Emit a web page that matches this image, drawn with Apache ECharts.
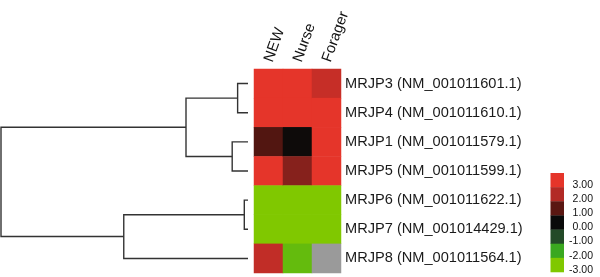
<!DOCTYPE html>
<html>
<head>
<meta charset="utf-8">
<script src="https://cdn.jsdelivr.net/npm/echarts@6/dist/echarts.min.js"></script>
<style>html,body{margin:0;padding:0;background:#fff;}#c{width:600px;height:277px;}</style>
</head>
<body>
<div id="c"></div>
<script>
// ---- data ----
const samples = ['NEW', 'Nurse', 'Forager'];
const genes = ['MRJP3 (NM_001011601.1)', 'MRJP4 (NM_001011610.1)', 'MRJP1 (NM_001011579.1)',
  'MRJP5 (NM_001011599.1)', 'MRJP6 (NM_001011622.1)', 'MRJP7 (NM_001014429.1)', 'MRJP8 (NM_001011564.1)'];
const valNEW     = [3.0, 3.0, 0.9, 3.0, -3.0, -3.0, 2.3];
const valNurse   = [3.0, 3.0, 0.05, 1.5, -3.0, -3.0, -2.6];
const valForager = [2.4, 3.0, 3.0, 3.0, -3.0, -3.0, null];
// dendrogram merges (R hclust style: negative = leaf row, positive = earlier merge, 1-based)
const mergeLeft   = [-5, -1, -3, 2, 1, 4];
const mergeRight  = [-6, -2, -4, 3, -7, 5];
const mergeHeight = [0.015, 0.042, 0.064, 0.251, 0.503, 1.0];
// legend
const legendLabels = ['3.00', '2.00', '1.00', '0.00', '-1.00', '-2.00', '-3.00'];
const legendColors = ['#e5352a', '#b22a25', '#5a1712', '#0a0a0a', '#234a28', '#3aa820', '#80c800'];
const missingColor = '#9a9a9a';

// ---- build ----
const cols = [valNEW, valNurse, valForager];
const heat = [], missing = [];
cols.forEach((arr, ci) => arr.forEach((v, ri) => {
  if (v === null) missing.push([ci, ri, 0]); else heat.push([ci, ri, v]);
}));

const nodes = [];
function pos(id) {
  if (id < 0) return { y: -id - 1 + 0.5, h: 0 };
  return nodes[id - 1];
}
const dendro = [];
for (let i = 0; i < mergeLeft.length; i++) {
  const a = pos(mergeLeft[i]), b = pos(mergeRight[i]), h = mergeHeight[i];
  dendro.push({ coords: [[a.h, a.y], [h, a.y], [h, b.y], [b.h, b.y]] });
  nodes.push({ y: (a.y + b.y) / 2, h: h });
}

// colour key built from legend arrays
const keyLeft = 550.5, keyTop = 173, keyW = 13.5, keyH = 14.14, keyTextRight = 593;
const FONT = 'Liberation Sans, Arial, sans-serif';
const keyGraphics = [];
legendColors.forEach((c, i) => {
  keyGraphics.push({ type: 'rect', left: keyLeft, top: keyTop + i * keyH,
    shape: { width: keyW, height: keyH + 0.3 }, style: { fill: c }, silent: true });
  keyGraphics.push({ type: 'text', x: keyTextRight, y: keyTop + i * keyH + 12,
    style: { text: legendLabels[i], font: '10.5px ' + FONT, fill: '#111', textAlign: 'right', textVerticalAlign: 'middle' },
    silent: true });
});

const chart = echarts.init(document.getElementById('c'), null, { renderer: 'canvas' });
chart.setOption({
  backgroundColor: '#ffffff',
  animation: false,
  grid: [
    { left: 254, top: 69, width: 87, height: 204 },
    { left: 1, top: 69, width: 247, height: 204 }
  ],
  xAxis: [
    { type: 'category', gridIndex: 0, data: samples, position: 'top',
      axisLine: { show: false }, axisTick: { show: false }, splitLine: { show: false },
      axisLabel: { rotate: -70, fontSize: 15, fontFamily: FONT, color: '#111', margin: 7.5, interval: 0 } },
    { type: 'value', gridIndex: 1, min: 0, max: 1, inverse: true, show: false }
  ],
  yAxis: [
    { type: 'category', gridIndex: 0, data: genes, inverse: true, position: 'right',
      axisLine: { show: false }, axisTick: { show: false }, splitLine: { show: false },
      axisLabel: { fontSize: 14.6, fontFamily: FONT, color: '#1a1a1a', margin: 4 } },
    { type: 'value', gridIndex: 1, min: 0, max: 7, inverse: true, show: false }
  ],
  visualMap: [
    { type: 'continuous', show: false, seriesIndex: 0, min: -3, max: 3,
      inRange: { color: legendColors.slice().reverse() } }
  ],
  graphic: keyGraphics,
  series: [
    { type: 'heatmap', xAxisIndex: 0, yAxisIndex: 0, data: heat, itemStyle: { borderWidth: 0 } },
    { type: 'heatmap', xAxisIndex: 0, yAxisIndex: 0, data: missing, itemStyle: { color: missingColor } },
    { type: 'lines', coordinateSystem: 'cartesian2d', xAxisIndex: 1, yAxisIndex: 1, polyline: true,
      data: dendro, lineStyle: { color: '#333333', width: 1.4, opacity: 1 }, silent: true }
  ]
});
</script>
</body>
</html>
